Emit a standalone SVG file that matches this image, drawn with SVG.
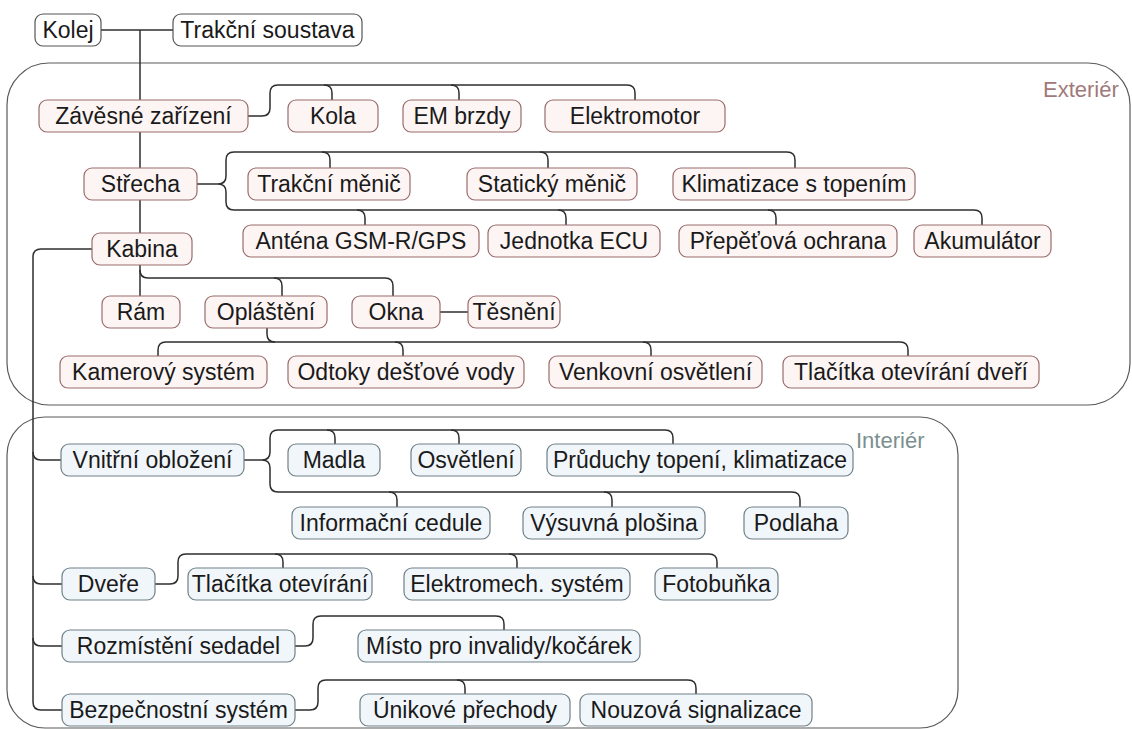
<svg xmlns="http://www.w3.org/2000/svg" width="1132" height="729" viewBox="0 0 1132 729">
<style>
text{font-family:"Liberation Sans",Arial,sans-serif;font-size:23px;fill:#1a1a1a;text-anchor:middle}
.n rect{stroke-width:1.2}
.neu rect{fill:#ffffff;stroke:#555555}
.ext rect{fill:#fdf5f4;stroke:#9a6c6c}
.int rect{fill:#f1f6fa;stroke:#6f8088}
.cont{fill:none;stroke:#5a5a5a;stroke-width:1.2}
#connectors path{fill:none;stroke:#2e2e2e;stroke-width:1.5}
.lbl{font-size:22px;text-anchor:start}
</style>
<rect class="cont" x="7" y="63" width="1123" height="342" rx="42"/>
<rect class="cont" x="7" y="417" width="951" height="311" rx="38"/>
<text class="lbl" x="1043" y="97" style="fill:#a07a7a">Exteriér</text>
<text class="lbl" x="856" y="448" style="fill:#7c8f8f">Interiér</text>
<g id="connectors">
<path d="M101 30 H173"/>
<path d="M140 30 V233"/>
<path d="M248 116 H262 Q270 116 270 108 V93 Q270 85 278 85 H627 Q635 85 635 93 V100"/>
<path d="M324 85 Q332 85 332 93 V100"/>
<path d="M451 85 Q459 85 459 93 V100"/>
<path d="M197 184 H218"/>
<path d="M234 152 Q226 152 226 160 V176 Q226 184 218 184 Q226 184 226 192 V202 Q226 210 234 210"/>
<path d="M234 152 H787 Q795 152 795 160 V168"/>
<path d="M322 152 Q330 152 330 160 V168"/>
<path d="M540 152 Q548 152 548 160 V168"/>
<path d="M234 210 H974 Q982 210 982 218 V225"/>
<path d="M357 210 Q365 210 365 218 V225"/>
<path d="M558 210 Q566 210 566 218 V225"/>
<path d="M768 210 Q776 210 776 218 V225"/>
<path d="M140 265 V296"/>
<path d="M140 270 Q140 278 148 278 H385 Q393 278 393 286 V296"/>
<path d="M274 278 Q282 278 282 286 V296"/>
<path d="M440 312 H468"/>
<path d="M267 328 V334 Q267 342 275 342"/>
<path d="M158 356 V350 Q158 342 166 342 H900 Q908 342 908 350 V356"/>
<path d="M395 342 Q403 342 403 350 V356"/>
<path d="M643 342 Q651 342 651 350 V356"/>
<path d="M92 249 H41 Q33 249 33 257 V702 Q33 710 41 710 H62"/>
<path d="M33 452 Q33 460 41 460 H61"/>
<path d="M33 576 Q33 584 41 584 H62"/>
<path d="M33 638 Q33 646 41 646 H62"/>
<path d="M244 460 H262"/>
<path d="M278 430 Q270 430 270 438 V452 Q270 460 262 460 Q270 460 270 468 V484 Q270 492 278 492"/>
<path d="M278 430 H665 Q673 430 673 438 V444"/>
<path d="M327 430 Q335 430 335 438 V444"/>
<path d="M451 430 Q459 430 459 438 V444"/>
<path d="M278 492 H792 Q800 492 800 500 V507"/>
<path d="M389 492 Q397 492 397 500 V507"/>
<path d="M604 492 Q612 492 612 500 V507"/>
<path d="M155 584 H170 Q178 584 178 576 V562 Q178 554 186 554 H709 Q717 554 717 562 V568"/>
<path d="M275 554 Q283 554 283 562 V568"/>
<path d="M509 554 Q517 554 517 562 V568"/>
<path d="M295 646 H305 Q313 646 313 638 V624 Q313 616 321 616 H496 Q504 616 504 624 V630"/>
<path d="M295 710 H310 Q318 710 318 702 V688 Q318 680 326 680 H688 Q696 680 696 688 V694"/>
<path d="M457 680 Q465 680 465 688 V694"/>
</g>
<g id="kolej" class="n neu"><rect x="35" y="14" width="66" height="32" rx="8"/><text x="68" y="38">Kolej</text></g>
<g id="trakcni-soustava" class="n neu"><rect x="173" y="14" width="189" height="32" rx="8"/><text x="267.5" y="38">Trakční soustava</text></g>
<g id="zavesne" class="n ext"><rect x="39" y="100" width="209" height="32" rx="8"/><text x="143.5" y="124">Závěsné zařízení</text></g>
<g id="kola" class="n ext"><rect x="288" y="100" width="90" height="32" rx="8"/><text x="333" y="124">Kola</text></g>
<g id="em-brzdy" class="n ext"><rect x="403" y="100" width="118" height="32" rx="8"/><text x="462" y="124">EM brzdy</text></g>
<g id="elektromotor" class="n ext"><rect x="545" y="100" width="180" height="32" rx="8"/><text x="635" y="124">Elektromotor</text></g>
<g id="strecha" class="n ext"><rect x="84" y="168" width="113" height="32" rx="8"/><text x="140.5" y="192">Střecha</text></g>
<g id="trakcni-menic" class="n ext"><rect x="248" y="168" width="162" height="32" rx="8"/><text x="329" y="192">Trakční měnič</text></g>
<g id="staticky-menic" class="n ext"><rect x="467" y="168" width="170" height="32" rx="8"/><text x="552" y="192">Statický měnič</text></g>
<g id="klimatizace" class="n ext"><rect x="673" y="168" width="242" height="32" rx="8"/><text x="794" y="192">Klimatizace s topením</text></g>
<g id="antena" class="n ext"><rect x="243" y="225" width="236" height="32" rx="8"/><text x="361" y="249">Anténa GSM-R/GPS</text></g>
<g id="ecu" class="n ext"><rect x="488" y="225" width="172" height="32" rx="8"/><text x="574" y="249">Jednotka ECU</text></g>
<g id="prepetova" class="n ext"><rect x="679" y="225" width="218" height="32" rx="8"/><text x="788" y="249">Přepěťová ochrana</text></g>
<g id="akumulator" class="n ext"><rect x="914" y="225" width="137" height="32" rx="8"/><text x="982.5" y="249">Akumulátor</text></g>
<g id="kabina" class="n ext"><rect x="92" y="233" width="100" height="32" rx="8"/><text x="142" y="257">Kabina</text></g>
<g id="ram" class="n ext"><rect x="102" y="296" width="78" height="32" rx="8"/><text x="141" y="320">Rám</text></g>
<g id="oplasteni" class="n ext"><rect x="205" y="296" width="122" height="32" rx="8"/><text x="266" y="320">Opláštění</text></g>
<g id="okna" class="n ext"><rect x="352" y="296" width="88" height="32" rx="8"/><text x="396" y="320">Okna</text></g>
<g id="tesneni" class="n ext"><rect x="468" y="296" width="92" height="32" rx="8"/><text x="514" y="320">Těsnění</text></g>
<g id="kamerovy" class="n ext"><rect x="60" y="356" width="207" height="32" rx="8"/><text x="163.5" y="380">Kamerový systém</text></g>
<g id="odtoky" class="n ext"><rect x="288" y="356" width="236" height="32" rx="8"/><text x="406" y="380">Odtoky dešťové vody</text></g>
<g id="venkovni" class="n ext"><rect x="549" y="356" width="213" height="32" rx="8"/><text x="655.5" y="380">Venkovní osvětlení</text></g>
<g id="tlacitka-dveri" class="n ext"><rect x="783" y="356" width="256" height="32" rx="8"/><text x="911" y="380">Tlačítka otevírání dveří</text></g>
<g id="vnitrni" class="n int"><rect x="61" y="444" width="183" height="32" rx="8"/><text x="152.5" y="468">Vnitřní obložení</text></g>
<g id="madla" class="n int"><rect x="288" y="444" width="92" height="32" rx="8"/><text x="334" y="468">Madla</text></g>
<g id="osvetleni" class="n int"><rect x="411" y="444" width="110" height="32" rx="8"/><text x="466" y="468">Osvětlení</text></g>
<g id="pruduchy" class="n int"><rect x="547" y="444" width="306" height="32" rx="8"/><text x="700" y="468">Průduchy topení, klimatizace</text></g>
<g id="informacni" class="n int"><rect x="292" y="507" width="198" height="32" rx="8"/><text x="391" y="531">Informační cedule</text></g>
<g id="vysuvna" class="n int"><rect x="523" y="507" width="182" height="32" rx="8"/><text x="614" y="531">Výsuvná plošina</text></g>
<g id="podlaha" class="n int"><rect x="744" y="507" width="104" height="32" rx="8"/><text x="796" y="531">Podlaha</text></g>
<g id="dvere" class="n int"><rect x="62" y="568" width="93" height="32" rx="8"/><text x="108.5" y="592">Dveře</text></g>
<g id="tlacitka-otevirani" class="n int"><rect x="188" y="568" width="184" height="32" rx="8"/><text x="280" y="592">Tlačítka otevírání</text></g>
<g id="elektromech" class="n int"><rect x="404" y="568" width="226" height="32" rx="8"/><text x="517" y="592">Elektromech. systém</text></g>
<g id="fotobunka" class="n int"><rect x="655" y="568" width="123" height="32" rx="8"/><text x="716.5" y="592">Fotobuňka</text></g>
<g id="rozmisteni" class="n int"><rect x="62" y="630" width="233" height="32" rx="8"/><text x="178.5" y="654">Rozmístění sedadel</text></g>
<g id="misto" class="n int"><rect x="358" y="630" width="282" height="32" rx="8"/><text x="499" y="654">Místo pro invalidy/kočárek</text></g>
<g id="bezpecnostni" class="n int"><rect x="62" y="694" width="233" height="32" rx="8"/><text x="178.5" y="718">Bezpečnostní systém</text></g>
<g id="unikove" class="n int"><rect x="360" y="694" width="210" height="32" rx="8"/><text x="465" y="718">Únikové přechody</text></g>
<g id="nouzova" class="n int"><rect x="580" y="694" width="232" height="32" rx="8"/><text x="696" y="718">Nouzová signalizace</text></g>
</svg>
